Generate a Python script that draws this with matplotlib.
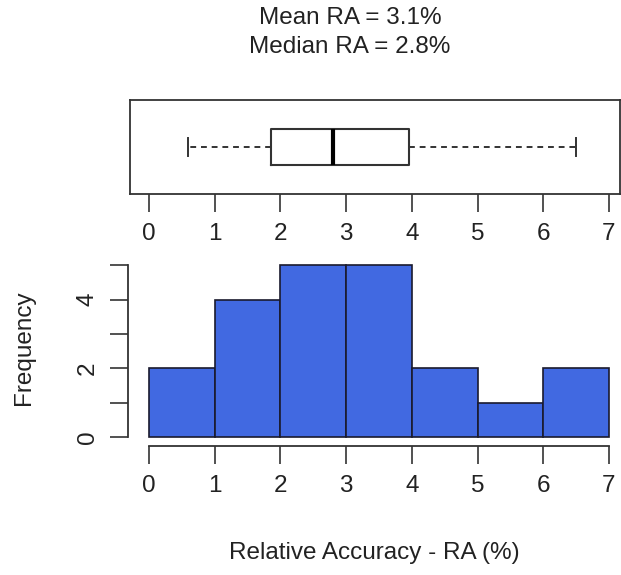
import matplotlib.pyplot as plt
import numpy as np

plt.rcParams['font.family'] = ['Liberation Sans', 'DejaVu Sans']

# histogram bins and counts
bin_edges = [0, 1, 2, 3, 4, 5, 6, 7]
counts = [2, 4, 5, 5, 2, 1, 2]

# boxplot five-number summary
whisker_lo, q1, median, q3, whisker_hi = 0.6, 1.85, 2.8, 3.95, 6.5
mean_ra = 3.1

x_ticks = [0, 1, 2, 3, 4, 5, 6, 7]
y_ticks = [0, 1, 2, 3, 4, 5]
y_labels = ['0', '', '2', '', '4', '']

W, H = 621, 575
fig = plt.figure(figsize=(W / 100, H / 100), dpi=100)
FS = 17.5


def px_axes(left, top, right, bottom):
    return fig.add_axes([left / W, 1 - bottom / H, (right - left) / W, (bottom - top) / H])


ink = '#333333'

# --- boxplot panel ---
axb = px_axes(130, 100, 620, 194)
axb.bxp([{'whislo': whisker_lo, 'q1': q1, 'med': median, 'q3': q3,
          'whishi': whisker_hi, 'fliers': []}],
        vert=False, widths=0.38, showfliers=False,
        boxprops=dict(color=ink, linewidth=1.5),
        medianprops=dict(color='black', linewidth=3),
        whiskerprops=dict(color=ink, linewidth=1.4, linestyle=(0, (3, 2.5))),
        capprops=dict(color=ink, linewidth=1.4), capwidths=0.2)
axb.set_xlim(-0.289, 7.168)
axb.set_ylim(0.5, 1.5)
axb.set_yticks([])
axb.set_xticks(x_ticks)
for s in axb.spines.values():
    s.set_color(ink)
    s.set_linewidth(1.3)
axb.tick_params(axis='x', length=13, width=1.2, color=ink, labelsize=FS, pad=8,
                labelcolor='#222222')

fig.text(350 / W, 1 - 18 / H, f'Mean RA = {mean_ra}%', ha='center', va='center', fontsize=FS, color='#222222')
fig.text(350 / W, 1 - 47 / H, f'Median RA = {median}%', ha='center', va='center', fontsize=FS, color='#222222')

# --- histogram panel ---
axh = px_axes(128, 250, 620, 446)
axh.bar(bin_edges[:-1], counts, width=np.diff(bin_edges), align='edge',
        color='#4169e1', edgecolor='#1a1a2e', linewidth=1.2)
axh.set_xlim(-0.3196, 7.168)
axh.set_ylim(-0.26, 5.44)
axh.spines['top'].set_visible(False)
axh.spines['right'].set_visible(False)
axh.spines['bottom'].set_bounds(0, 7)
axh.spines['left'].set_bounds(0, 5)
for s in ('bottom', 'left'):
    axh.spines[s].set_color(ink)
    axh.spines[s].set_linewidth(1.3)
axh.set_xticks(x_ticks)
axh.set_yticks(y_ticks)
axh.set_yticklabels(y_labels, rotation=90, va='center')
axh.tick_params(axis='both', length=13, width=1.2, color=ink, labelsize=FS, pad=8,
                labelcolor='#222222')
axh.set_ylabel('Frequency', fontsize=FS, labelpad=30, color='#222222')
axh.set_xlabel('Relative Accuracy - RA (%)', fontsize=FS, labelpad=32, color='#222222')

fig.savefig('out.png', dpi=100)
